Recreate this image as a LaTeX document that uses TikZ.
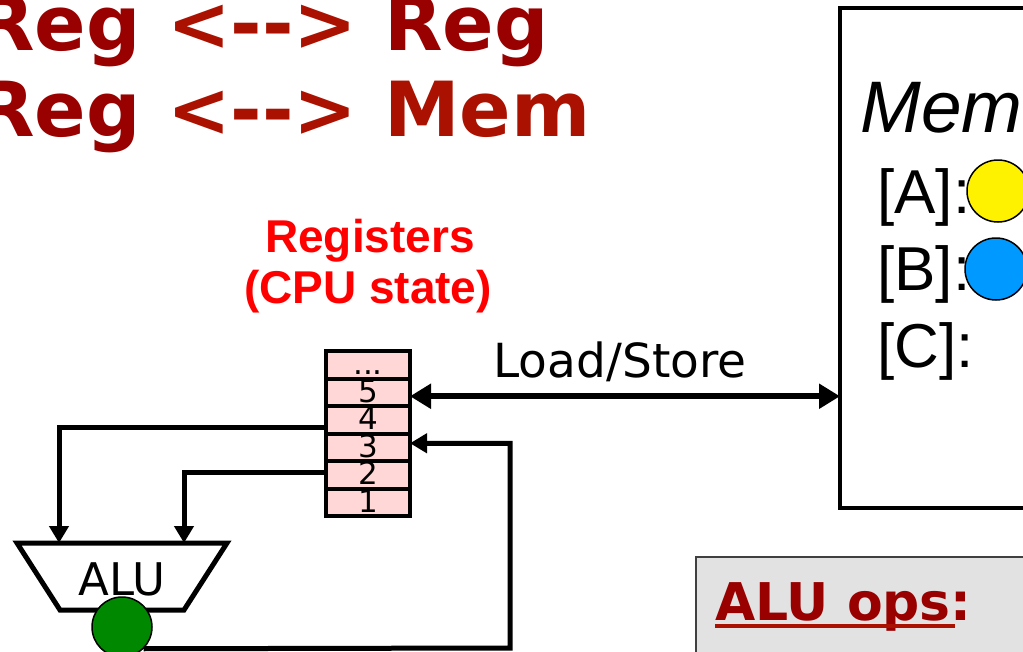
\documentclass[tikz,border=0pt]{standalone}
\usepackage{fontspec}
\setmainfont{DejaVu Sans}
\newfontfamily\arialf{Liberation Sans}
\usetikzlibrary{arrows.meta}
\definecolor{titleA}{HTML}{990000}
\definecolor{titleB}{HTML}{AA1100}
\definecolor{regpink}{HTML}{FFD7D7}
\definecolor{alugreen}{HTML}{008800}
\definecolor{memblue}{HTML}{0099FF}
\definecolor{opsgray}{HTML}{E2E2E2}
\begin{document}
\begin{tikzpicture}[x=1pt,y=-1pt,
  regrow/.style={draw=black, line width=4pt, fill=regpink, minimum width=84pt, minimum height=27.5pt, inner sep=0pt, outer sep=0pt, font=\fontsize{31}{31}\selectfont, text height=22pt, text depth=2pt},
  wire/.style={line width=5pt},
  tip/.style={-{Triangle[length=17pt,width=19pt]}},
  bigtip/.style={{Triangle[length=21pt,width=24pt]}-{Triangle[length=21pt,width=24pt]}},
  titlefont/.style={anchor=base west, inner sep=0pt, font=\fontsize{76}{76}\selectfont\bfseries},
  memtext/.style={anchor=base west, inner sep=0pt, font=\arialf\fontsize{62}{62}\selectfont},
  val/.style={circle, draw=black, line width=1.5pt, minimum size=62pt, inner sep=0pt}
]
\useasboundingbox (0,0) rectangle (1023,651);

% title
\node[titlefont] (t1) at (-24,50) {\textcolor{titleA}{Reg} \textcolor{titleB}{<-{}->} \textcolor{titleA}{Reg}};
\node[titlefont] (t2) at (-24,136) {\textcolor{titleA}{Reg} \textcolor{titleB}{<-{}-> Mem}};

% registers label
\node[anchor=base, inner sep=0pt, text=red, font=\arialf\bfseries\fontsize{46}{46}\selectfont] (rl1) at (370,252) {Registers};
\node[anchor=base, inner sep=0pt, text=red, font=\arialf\bfseries\fontsize{46}{46}\selectfont] (rl2) at (368,303) {(CPU state)};

% register file
\node[regrow, anchor=north] (rdots) at (368,351) {...};
\node[regrow, anchor=north] (r5) at (rdots.south) {5};
\node[regrow, anchor=north] (r4) at (r5.south) {4};
\node[regrow, anchor=north] (r3) at (r4.south) {3};
\node[regrow, anchor=north] (r2) at (r3.south) {2};
\node[regrow, anchor=north] (r1) at (r2.south) {1};

% memory
\node[draw=black, line width=4pt, minimum width=220pt, minimum height=500pt, anchor=north west, inner sep=0pt, outer sep=0pt] (mem) at (840,8) {};
\node[anchor=base west, inner sep=0pt, font=\arialf\itshape\fontsize{73}{73}\selectfont] (memlabel) at (860,132) {Mem};
\node[memtext] (la) at (877,213) {[A]:};
\node[memtext] (lb) at (877,290) {[B]:};
\node[memtext] (lc) at (877,367) {[C]:};
\node[val, fill=yellow] (va) at (998,191) {};
\node[val, fill=memblue] (vb) at (996,269) {};

% load/store
\node[anchor=base, inner sep=0pt, font=\fontsize{47}{47}\selectfont] (ls) at (620,377) {Load/Store};
\draw[line width=6pt, bigtip] ([yshift=-4pt]r5.east) -- ([yshift=-4pt]r5.east -| mem.west);

% ALU
\coordinate (aluA) at (59,543);
\coordinate (aluB) at (184,543);
\draw[line width=5pt, fill=white] (17,543) -- (227,543) -- (184,610) -- (60,610) -- cycle;
\node[anchor=base, inner sep=0pt, font=\fontsize{45}{45}\selectfont] (alutext) at (122,595) {ALU};
\draw[wire, tip] ([yshift=-8pt]r4.west) -| (aluA);
\draw[wire, tip] ([yshift=2pt]r2.west) -| (aluB);
\node[circle, draw=black, line width=1.5pt, fill=alugreen, minimum size=60pt, inner sep=0pt] (green) at (122,627) {};
\coordinate (loopc) at (510,648);
\draw[wire, tip] (green.-45) -- (loopc) |- ([yshift=4pt]r3.east);

% ALU ops box
\node[draw=black!75, line width=2pt, fill=opsgray, anchor=north west, minimum width=400pt, minimum height=150pt] (opsbox) at (695,556) {};
\node[anchor=base west, inner sep=0pt, text=titleA, font=\fontsize{52}{52}\selectfont\bfseries] (opstext) at (715,620) {ALU ops:};
\draw[titleB, line width=3.5pt] ([yshift=-6pt]opstext.base west) -- ([yshift=-6pt,xshift=-17pt]opstext.base east);
\end{tikzpicture}
\end{document}
